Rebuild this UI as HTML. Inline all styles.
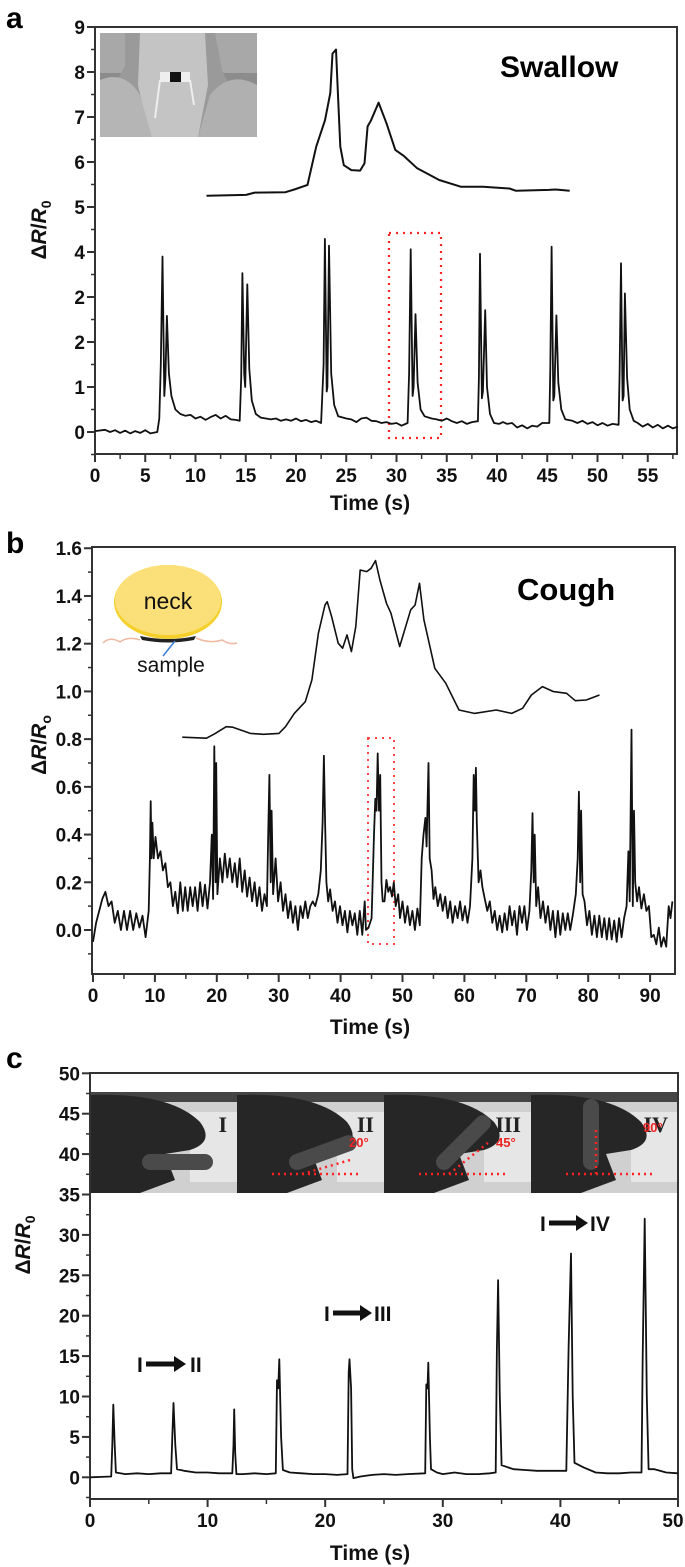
<!DOCTYPE html>
<html><head><meta charset="utf-8"><style>
html,body{margin:0;padding:0;background:#fff;}
svg{display:block;font-family:"Liberation Sans",sans-serif;}
.tk{font-size:19px;font-weight:bold;fill:#111;}
.ttl{font-size:21px;font-weight:bold;fill:#111;}
</style></head><body>
<svg id="fig" width="685" height="1567" viewBox="0 0 685 1567">
<g id="pa">
 <text x="6" y="28" style="font-size:30px;font-weight:bold">a</text>
 <g>
  <rect x="100" y="33" width="157" height="104" fill="#8c8c8c"/>
  <rect x="100" y="33" width="157" height="40" fill="#a8a8a8"/>
  <path d="M125 33 L215 33 L222 70 Q232 95 257 110 L257 137 L100 137 L100 95 Q120 80 125 65 Z" fill="#9a9a9a"/>
  <path d="M140 33 L205 33 L208 85 L198 137 L150 137 L138 85 Z" fill="#c4c4c4"/>
  <path d="M100 80 Q125 70 140 95 L152 137 L100 137 Z" fill="#b5b5b5"/>
  <path d="M257 85 Q230 70 210 95 L198 137 L257 137 Z" fill="#b0b0b0"/>
  <rect x="160" y="72" width="30" height="10" fill="#eee"/>
  <rect x="170" y="72" width="11" height="10" fill="#111"/>
  <path d="M160 80 L155 118 M190 80 L194 105" stroke="#eee" stroke-width="2"/>
 </g>
 <text x="500" y="77" style="font-size:30px;font-weight:bold">Swallow</text>
 <rect x="389" y="233" width="52" height="205" fill="none" stroke="#f22" stroke-width="2.2" stroke-dasharray="2,5"/>
 <text class="ttl" x="370" y="510" text-anchor="middle">Time (s)</text>
 <text class="ttl" transform="translate(46,230) rotate(-90)" text-anchor="middle">Δ<tspan font-style="italic">R</tspan>/<tspan font-style="italic">R</tspan><tspan font-size="14" dy="5">0</tspan></text>
</g>
<g id="pb">
 <text x="6" y="553" style="font-size:30px;font-weight:bold">b</text>
 <g>
  <path d="M103 643 Q110 636 120 642 Q128 636 140 640 M196 638 Q210 644 222 640 Q230 645 237 643" stroke="#f0b8a0" stroke-width="1.5" fill="none"/>
  <ellipse cx="168" cy="602" rx="54" ry="37" fill="#f5d02a"/>
  <ellipse cx="168" cy="600" rx="53" ry="35" fill="#fbe07a"/>
  <path d="M140 636 Q168 642 196 636 L194 640 Q168 645 142 640 Z" fill="#222"/>
  <line x1="175" y1="641" x2="163" y2="656" stroke="#3a7bd5" stroke-width="1.5"/>
  <text x="168" y="609" text-anchor="middle" style="font-size:23px" fill="#111">neck</text>
  <text x="171" y="672" text-anchor="middle" style="font-size:21px" fill="#111">sample</text>
 </g>
 <text x="517" y="600" style="font-size:31px;font-weight:bold">Cough</text>
 <rect x="368" y="738" width="26" height="206" fill="none" stroke="#f44" stroke-width="2" stroke-dasharray="2,5"/>
 <text class="ttl" x="370" y="1034" text-anchor="middle">Time (s)</text>
 <text class="ttl" transform="translate(46,745) rotate(-90)" text-anchor="middle">Δ<tspan font-style="italic">R</tspan>/<tspan font-style="italic">R</tspan><tspan font-size="14" dy="5">o</tspan></text>
</g>
<g id="pc">
 <text x="6" y="1068" style="font-size:30px;font-weight:bold">c</text>
 <g id="photos"></g>
 <g><text class="ttl" x="137" y="1372">I</text><path d="M146 1364 L180 1364" stroke="#111" stroke-width="5"/><path d="M174 1356 L186 1364 L174 1372 Z" fill="#111"/><text class="ttl" x="190" y="1372">II</text></g>
 <g><text class="ttl" x="324" y="1321">I</text><path d="M333 1313 L366 1313" stroke="#111" stroke-width="5"/><path d="M360 1305 L372 1313 L360 1321 Z" fill="#111"/><text class="ttl" x="374" y="1321">III</text></g>
 <g><text class="ttl" x="540" y="1231">I</text><path d="M549 1223 L582 1223" stroke="#111" stroke-width="5"/><path d="M576 1215 L588 1223 L576 1231 Z" fill="#111"/><text class="ttl" x="590" y="1231">IV</text></g>
 <text class="ttl" x="370" y="1560" text-anchor="middle">Time (s)</text>
 <text class="ttl" transform="translate(30,1245) rotate(-90)" text-anchor="middle">Δ<tspan font-style="italic">R</tspan>/<tspan font-style="italic">R</tspan><tspan font-size="14" dy="5">0</tspan></text>
</g>
</svg>
<script>
// ---------- data ----------
const aXTicks=[0,5,10,15,20,25,30,35,40,45,50,55];
const aYTicks=[0,1,2,3,4,5,6,7,8,9];
const aYLabels=["0","1","2","2","4","5","6","7","8","9"];
const aInsetT=[11.09,15.02,15.89,18.95,19.83,21.14,22.01,22.89,23.41,23.63,23.98,24.20,24.41,24.76,25.51,26.38,26.82,27.12,27.47,28.22,29.00,29.88,30.75,32.06,34.25,36.43,38.62,41.24,41.89,45.17,45.83,47.23];
const aInsetV=[5.25,5.27,5.32,5.33,5.39,5.49,6.34,6.93,7.53,8.41,8.50,7.38,6.34,5.93,5.82,5.81,5.97,6.79,6.93,7.32,6.86,6.27,6.13,5.86,5.60,5.45,5.45,5.41,5.36,5.38,5.39,5.36];
const aTrace=[[0,0.02],[1,0.05],[1.5,0],[2,0.04],[2.5,-0.02],[3,0.03],[3.5,-0.03],[4,0.02],[4.5,-0.02],[5,0.04],[5.5,-0.03],[6.2,0],[6.4,0.3],[6.55,1.5],[6.72,3.9],[6.9,0.8],[7.0,1.2],[7.15,2.58],[7.35,1.3],[7.6,0.8],[8,0.5],[8.5,0.4],[9,0.36],[9.5,0.38],[10,0.3],[10.5,0.34],[11,0.27],[11.5,0.33],[12,0.38],[12.5,0.3],[13,0.36],[13.5,0.28],[14,0.27],[14.4,0.25],[14.55,1.2],[14.67,3.53],[14.85,1.3],[14.95,1.0],[15.15,3.28],[15.35,1.4],[15.6,0.7],[16,0.4],[16.5,0.32],[17,0.3],[17.5,0.28],[18,0.3],[18.5,0.25],[19,0.28],[19.5,0.25],[20,0.3],[20.5,0.24],[21,0.27],[21.5,0.22],[22,0.25],[22.5,0.2],[22.75,1.5],[22.88,4.29],[23.05,0.9],[23.12,1.0],[23.28,4.14],[23.5,1.3],[23.8,0.6],[24.2,0.35],[25,0.3],[25.5,0.28],[26,0.22],[26.5,0.3],[27,0.32],[27.5,0.25],[28,0.24],[28.5,0.2],[29,0.22],[29.5,0.18],[30,0.2],[30.5,0.14],[31.1,0.2],[31.25,1.3],[31.41,4.06],[31.6,0.8],[31.7,1.0],[31.89,2.62],[32.1,1.1],[32.4,0.5],[32.8,0.35],[33.5,0.3],[34,0.28],[34.5,0.25],[35,0.3],[35.5,0.24],[36,0.2],[36.5,0.24],[37,0.18],[37.5,0.22],[38.1,0.24],[38.2,1.2],[38.31,3.96],[38.5,0.75],[38.6,0.9],[38.83,2.71],[39.0,1.0],[39.3,0.4],[39.7,0.2],[40.2,0.18],[40.6,0.22],[41,0.18],[41.5,0.2],[42,0.1],[42.5,0.15],[43,0.08],[43.5,0.14],[44,0.12],[44.5,0.2],[45.2,0.2],[45.3,1.4],[45.43,4.12],[45.6,0.7],[45.7,0.8],[45.91,2.59],[46.1,1.1],[46.4,0.5],[46.8,0.28],[47.5,0.25],[48,0.2],[48.5,0.25],[49,0.18],[49.5,0.22],[50,0.15],[50.5,0.2],[51,0.14],[51.5,0.18],[52.1,0.16],[52.2,1.3],[52.34,3.75],[52.5,0.7],[52.6,0.8],[52.73,3.08],[52.95,1.2],[53.2,0.5],[53.6,0.25],[54,0.2],[54.5,0.12],[55,0.18],[55.5,0.1],[56,0.16],[56.5,0.08],[57,0.14],[57.5,0.08],[58,0.12]];

const bXTicks=[0,10,20,30,40,50,60,70,80,90];
const bYTicks=[0,0.2,0.4,0.6,0.8,1.0,1.2,1.4,1.6];
const bInsetT=[14.43,18.33,19.75,21.52,22.58,25.42,27.55,30.03,31.10,32.52,34.29,35.36,36.42,37.48,37.84,38.55,39.61,40.32,41.03,41.74,42.45,43.16,44.22,44.93,45.64,46.35,47.42,48.13,49.55,51.32,52.03,52.74,53.45,55.22,56.99,59.12,61.61,65.15,67.64,69.41,70.83,72.60,74.38,76.51,77.92,79.70,81.83];
const bInsetV=[0.808,0.804,0.824,0.852,0.850,0.824,0.820,0.824,0.852,0.908,0.957,1.048,1.244,1.362,1.376,1.314,1.202,1.181,1.237,1.167,1.272,1.509,1.502,1.516,1.548,1.467,1.369,1.328,1.188,1.342,1.362,1.453,1.300,1.097,1.034,0.922,0.908,0.922,0.908,0.929,0.985,1.020,0.999,0.992,0.961,0.964,0.985];
const bTrace=[[0,-0.05],[0.5,0.03],[1,0.08],[1.5,0.13],[2,0.16],[2.5,0.1],[3,0.12],[3.5,0.03],[4,0.08],[4.5,0],[5,0.08],[5.5,0],[6,0.08],[6.5,0],[7,0.07],[7.5,0.01],[8,0.06],[8.5,-0.03],[9,0.08],[9.2,0.3],[9.32,0.54],[9.45,0.3],[9.6,0.45],[9.8,0.3],[10.1,0.39],[10.5,0.3],[10.9,0.33],[11.3,0.25],[11.7,0.28],[12.1,0.18],[12.5,0.2],[12.9,0.1],[13.3,0.16],[13.7,0.07],[14.1,0.2],[14.5,0.08],[14.9,0.18],[15.3,0.08],[15.7,0.18],[16.1,0.1],[16.5,0.18],[16.9,0.08],[17.3,0.2],[17.7,0.1],[18.1,0.19],[18.5,0.09],[18.9,0.2],[19.2,0.4],[19.4,0.13],[19.6,0.77],[19.8,0.2],[19.9,0.7],[20.1,0.15],[20.5,0.3],[20.9,0.2],[21.3,0.32],[21.7,0.22],[22.1,0.3],[22.5,0.2],[22.9,0.28],[23.3,0.18],[23.7,0.3],[24.1,0.16],[24.5,0.25],[24.9,0.14],[25.3,0.22],[25.7,0.12],[26.1,0.2],[26.5,0.1],[26.9,0.18],[27.3,0.08],[27.7,0.15],[28.1,0.1],[28.3,0.4],[28.5,0.65],[28.7,0.2],[28.85,0.5],[29.1,0.15],[29.5,0.3],[29.9,0.12],[30.3,0.2],[30.7,0.08],[31.1,0.15],[31.5,0.05],[31.9,0.12],[32.3,0.03],[32.7,0.1],[33.1,0],[33.5,0.1],[33.9,0.05],[34.3,0.12],[34.7,0.05],[35.1,0.1],[35.5,0.12],[35.9,0.1],[36.4,0.15],[36.8,0.25],[37.1,0.45],[37.3,0.73],[37.5,0.45],[37.7,0.2],[38,0.12],[38.3,0.17],[38.7,0.08],[39.1,0.12],[39.5,0.03],[39.9,0.1],[40.3,0.02],[40.7,0.08],[41.1,-0.01],[41.5,0.08],[41.9,0.02],[42.3,0.07],[42.7,-0.02],[43.1,0.08],[43.5,-0.02],[43.9,0.12],[44.1,0],[44.5,0.01],[45,0.05],[45.4,0.4],[45.6,0.55],[45.8,0.5],[46,0.74],[46.2,0.5],[46.4,0.65],[46.6,0.2],[46.8,0.12],[47.1,0.12],[47.4,0.21],[47.7,0.16],[48,0.18],[48.3,0.14],[48.6,0.2],[48.9,0.1],[49.3,0.15],[49.6,0.05],[50,0.12],[50.4,0.03],[50.8,0.1],[51.2,0.02],[51.6,0.08],[52,0],[52.4,0.09],[52.8,0.02],[53.1,0.3],[53.4,0.4],[53.7,0.47],[53.9,0.35],[54.2,0.7],[54.4,0.3],[54.7,0.25],[55,0.13],[55.3,0.18],[55.7,0.1],[56.1,0.15],[56.5,0.08],[56.9,0.14],[57.3,0.05],[57.7,0.12],[58.1,0.03],[58.5,0.1],[58.9,0.05],[59.3,0.12],[59.7,0.04],[60.1,0.1],[60.5,0.03],[60.9,0.1],[61.3,0.3],[61.5,0.65],[61.7,0.5],[61.85,0.68],[62,0.45],[62.3,0.2],[62.6,0.25],[62.9,0.18],[63.3,0.13],[63.7,0.08],[64.1,0.12],[64.5,0.03],[64.9,0.08],[65.3,0],[65.7,0.06],[66.1,-0.01],[66.5,0.07],[66.9,0],[67.3,0.1],[67.7,0.02],[68.1,0.08],[68.5,-0.02],[68.9,0.1],[69.3,0.03],[69.7,0.1],[70.1,0],[70.5,0.08],[70.8,0.25],[71,0.49],[71.2,0.2],[71.35,0.4],[71.6,0.1],[71.9,0.18],[72.3,0.05],[72.7,0.12],[73.1,0.03],[73.5,0.1],[73.9,0],[74.3,0.08],[74.7,-0.03],[75.1,0.08],[75.5,-0.02],[75.9,0.07],[76.3,0],[76.7,0.07],[77.1,0],[77.5,0.06],[78,0.15],[78.3,0.3],[78.5,0.58],[78.7,0.2],[78.85,0.5],[79.1,0.15],[79.4,0.12],[79.8,0.02],[80.2,0.08],[80.6,-0.02],[81,0.06],[81.4,-0.03],[81.8,0.06],[82.2,-0.03],[82.6,0.05],[83,-0.04],[83.4,0.05],[83.8,-0.04],[84.2,0.04],[84.6,-0.05],[85,0.05],[85.4,-0.03],[85.8,0.05],[86.2,0.1],[86.5,0.33],[86.7,0.12],[87,0.84],[87.2,0.1],[87.4,0.5],[87.6,0.2],[87.9,0.12],[88.2,0.18],[88.6,0.09],[89,0.15],[89.4,0.08],[89.8,0.1],[90.2,-0.03],[90.6,-0.02],[91,-0.06],[91.4,0.01],[91.8,-0.07],[92.2,-0.03],[92.6,-0.07],[93,0.1],[93.3,0.05],[93.6,0.12]];

const cXTicks=[0,10,20,30,40,50];
const cYTicks=[0,5,10,15,20,25,30,35,40,45,50];
const cTrace=[[0,0],[1,0.05],[1.8,0.1],[1.9,4],[1.98,9],[2.1,4],[2.2,0.6],[3,0.4],[4,0.5],[5,0.4],[6,0.5],[6.9,0.5],[7.0,5],[7.1,9.2],[7.25,4],[7.4,1],[8,0.8],[9,0.6],[10,0.6],[11,0.5],[12.1,0.5],[12.2,4],[12.26,8.4],[12.35,3],[12.45,0.4],[13,0.4],[14,0.5],[15,0.4],[15.8,0.5],[15.9,12],[16.0,11],[16.1,14.6],[16.25,5],[16.4,0.9],[17,0.6],[18,0.5],[19,0.4],[20,0.4],[21,0.3],[21.9,0.4],[22.0,13],[22.07,14.6],[22.2,11],[22.3,1],[22.4,-0.1],[23,0.1],[24,0.3],[25,0.4],[26,0.3],[27,0.4],[28.5,0.5],[28.6,11.5],[28.7,11],[28.77,14.2],[28.9,5],[29.0,1],[29.5,0.6],[30,0.4],[31,0.6],[32,0.4],[33,0.4],[34,0.5],[34.5,0.6],[34.6,16],[34.65,20],[34.7,24.4],[34.85,10],[35.0,1.5],[36,1.0],[37,0.9],[38,0.8],[39,0.8],[40.5,0.8],[40.7,16],[40.8,22],[40.9,27.7],[41.05,10],[41.2,1.8],[42,1.2],[43,0.6],[44,0.5],[45,0.5],[46,0.6],[46.9,0.6],[47.0,15],[47.1,25],[47.17,32],[47.35,10],[47.5,1.0],[48,1.0],[49,0.6],[50,0.5]];

// ---------- drawing ----------
const NS="http://www.w3.org/2000/svg";
function mk(tag,attrs,parent){const e=document.createElementNS(NS,tag);for(const k in attrs)e.setAttribute(k,attrs[k]);parent.appendChild(e);return e;}
const xa=t=>95+t*10.05, ya=v=>432-v*45;
const xb=t=>93+t*6.19, yb=v=>930-v*238.6;
const xc=t=>90+t*11.76, yc=v=>1477.3-v*8.08;

function axes(g,L,R,T,B,xs,ys,xt,yt,ylabels,minorY,minorX,fmt){
  const fr=mk('rect',{x:L,y:T,width:R-L,height:B-T,fill:'none',stroke:'#333','stroke-width':2},g);
  
  
  minorY.forEach(v=>{const y=ys(v);if(y<T-1||y>B+1)return;mk('line',{x1:L-4,x2:L,y1:y,y2:y,stroke:'#333','stroke-width':1.5},g);});
  minorX.forEach(t=>{mk('line',{x1:xs(t),x2:xs(t),y1:B,y2:B+5,stroke:'#333','stroke-width':1.5},g);});
  yt.forEach((v,i)=>{const y=ys(v);mk('line',{x1:L-8,x2:L,y1:y,y2:y,stroke:'#333','stroke-width':2},g);
    const tx=mk('text',{x:L-10,y:y+7,'text-anchor':'end',class:'tk'},g);tx.textContent=ylabels?ylabels[i]:fmt(v);
    
    });
  xt.forEach(t=>{const x=xs(t);mk('line',{x1:x,x2:x,y1:B,y2:B+8,stroke:'#333','stroke-width':2},g);
    const ax=Math.min(x,685-12);
    const tx=mk('text',{x:ax,y:B+28,'text-anchor':'middle',class:'tk'},g);tx.textContent=String(t);
    
    });
}
function line(g,pts,xs,ys,name,w){
  const d=pts.map((p,i)=>(i?'L':'M')+xs(p[0]).toFixed(1)+' '+ys(p[1]).toFixed(1)).join(' ');
  const p=mk('path',{d:d,fill:'none',stroke:'#111','stroke-width':w,'stroke-linejoin':'round'},g);
  
  
}
const ga=document.getElementById('pa'),gb=document.getElementById('pb'),gc=document.getElementById('pc');
const ph=document.getElementById('photos');
const nums=["I","II","III","IV"];const ang=[0,20,45,90];
for(let i=0;i<4;i++){
  const x0=90+i*147, y0=1092, w=147, h=101;
  mk('rect',{x:x0,y:y0,width:w,height:h,fill:'#d0d0d0'},ph);
  mk('rect',{x:x0+100,y:y0+20,width:47,height:70,fill:'#e6e6e6'},ph);
  mk('rect',{x:x0,y:y0,width:w,height:10,fill:'#444'},ph);
  mk('path',{d:`M${x0} ${y0+3} Q${x0+80} ${y0} ${x0+110} ${y0+30} Q${x0+125} ${y0+50} ${x0+100} ${y0+58} L${x0+75} ${y0+62} L${x0+85} ${y0+88} L${x0+50} ${y0+101} L${x0} ${y0+101} Z`,fill:'#262626'},ph);
  const fx=x0+60, fy=y0+70, L=55, a=ang[i]*Math.PI/180;
  mk('line',{x1:fx,y1:fy,x2:fx+L*Math.cos(a),y2:fy-L*Math.sin(a),stroke:'#4a4a4a','stroke-width':16,'stroke-linecap':'round'},ph);
  const t=mk('text',{x:x0+w-10,y:y0+40,'text-anchor':'end','font-family':'Liberation Serif, serif','font-size':'22','font-weight':'bold',fill:'#222'},ph);t.textContent=nums[i];
  if(i>0){mk('line',{x1:fx-25,y1:fy+12,x2:fx+65,y2:fy+12,stroke:'#f22','stroke-width':2.5,'stroke-dasharray':'2,4'},ph);
    mk('line',{x1:fx+5,y1:fy+12,x2:fx+5+55*Math.cos(a),y2:fy+12-55*Math.sin(a)*0.8,stroke:'#f22','stroke-width':2.5,'stroke-dasharray':'2,4'},ph);
    const at=mk('text',{x:x0+w-35,y:y0+55+(i==3?-15:0),'font-size':'13','font-weight':'bold',fill:'#e22'},ph);at.textContent=ang[i]+'°';}
}
const mA=[];for(let v=-0.5;v<=9;v+=0.5)mA.push(v);
const mAx=[];for(let t=0;t<=58;t+=2.5)mAx.push(t);
axes(ga,95,677,27,454,xa,ya,aXTicks,aYTicks,aYLabels,mA,mAx);
const mB=[];for(let v=-0.1;v<=1.6;v+=0.1)mB.push(v);
const mBx=[];for(let t=0;t<=94;t+=5)mBx.push(t);
axes(gb,92,675,547,974,xb,yb,bXTicks,bYTicks,null,mB,mBx,v=>v.toFixed(1));
const mC=[];for(let v=-2.5;v<=50;v+=2.5)mC.push(v);
const mCx=[];for(let t=0;t<=50;t+=5)mCx.push(t);
axes(gc,90,678,1073,1499,xc,yc,cXTicks,cYTicks,null,mC,mCx,v=>String(v));
line(ga,aTrace,xa,ya,'swallow-signal-line',1.8);
line(ga,aInsetT.map((t,i)=>[t,aInsetV[i]]),xa,ya,'swallow-zoom-inset-line',2);
line(gb,bTrace,xb,yb,'cough-signal-line',1.8);
line(gb,bInsetT.map((t,i)=>[t,bInsetV[i]]),xb,yb,'cough-zoom-inset-line',1.6);
line(gc,cTrace,xc,yc,'finger-bending-signal-line',1.8);
</script>
</body></html>
